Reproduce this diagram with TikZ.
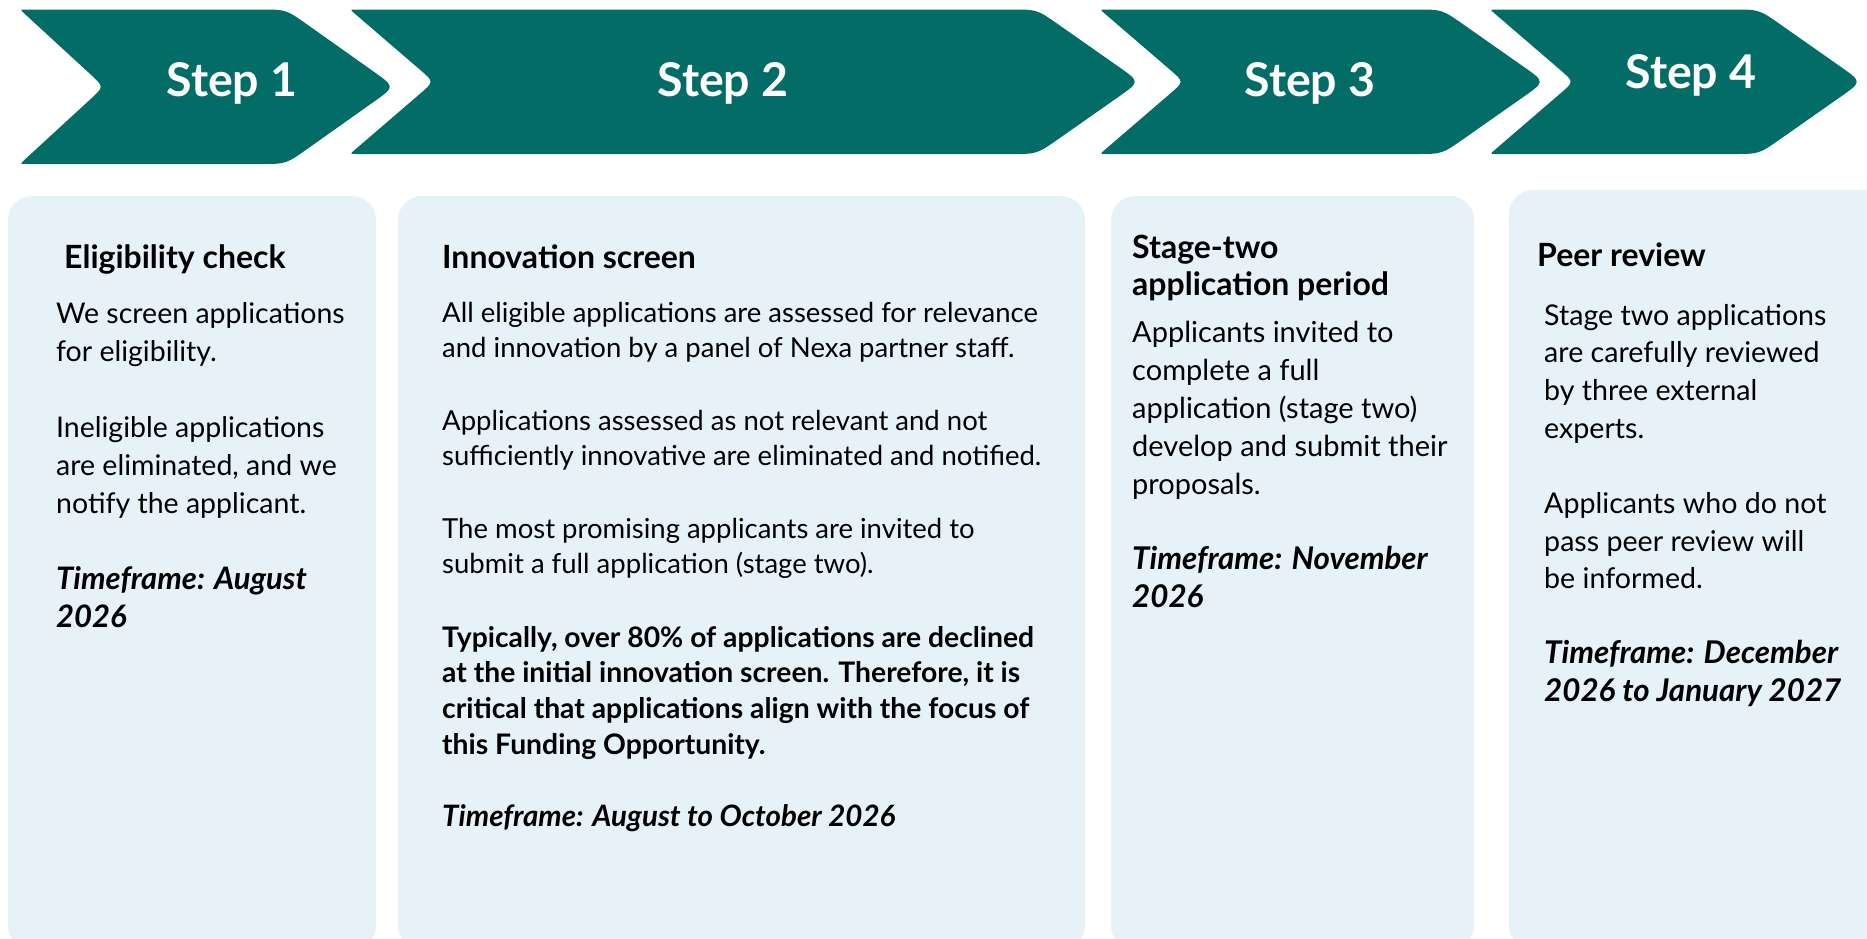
\documentclass[tikz,border=0pt]{standalone}
\usepackage{fontspec}
\setmainfont{Lato}
\usetikzlibrary{calc}
\definecolor{teal}{HTML}{026C67}
\definecolor{boxbg}{HTML}{E6F1F8}
\tikzset{
  card/.style={fill=boxbg, rounded corners=24pt},
  steplabel/.style={text=white, font=\fontsize{46.5}{52}\selectfont\bfseries, inner sep=0pt},
  cardtext/.style={anchor=base west, inner sep=0pt, align=left},
}
% #1 L, #2 N (notch), #3 Rt, #4 P (tip), #5 T, #6 B
\newcommand{\chevronshape}[6]{%
  \coordinate (TL) at (#1,#5);
  \coordinate (TR) at (#3,#5);
  \coordinate (TP) at (#4,{(#5+#6)/2});
  \coordinate (BR) at (#3,#6);
  \coordinate (BL) at (#1,#6);
  \coordinate (NT) at (#2,{(#5+#6)/2});
  \fill[teal] ($(TL)!6pt!(TR)$) -- ($(TR)!26pt!(TL)$) .. controls (TR) .. ($(TR)!26pt!(TP)$)
    -- ($(TP)!26pt!(TR)$) .. controls (TP) .. ($(TP)!26pt!(BR)$)
    -- ($(BR)!26pt!(TP)$) .. controls (BR) .. ($(BR)!26pt!(BL)$)
    -- ($(BL)!6pt!(BR)$) .. controls (BL) .. ($(BL)!6pt!(NT)$)
    -- ($(NT)!18pt!(BL)$) .. controls (NT) .. ($(NT)!18pt!(TL)$)
    -- ($(TL)!6pt!(NT)$) .. controls (TL) .. ($(TL)!6pt!(TR)$) -- cycle;}
\newcommand{\bodysz}[2]{\fontsize{#1}{#2}\selectfont}
\begin{document}
\begin{tikzpicture}[x=1pt,y=-1pt]
\useasboundingbox (0,0) rectangle (1867,938);
\begin{scope}
\clip (0,0) rectangle (1867,938);
\fill[card] (8,196) rectangle (376,950);
\fill[card] (398,196) rectangle (1085,950);
\fill[card] (1111,196) rectangle (1474,950);
\fill[card] (1509,190) rectangle (1890,950);
\end{scope}
% chevrons
\chevronshape{20}{104}{286}{395}{9.5}{164}
\chevronshape{350}{434}{1037}{1140}{9.5}{154}
\chevronshape{1100}{1184}{1442}{1545}{9.5}{154}
\chevronshape{1490}{1574}{1759}{1862}{9.5}{154}
\node[steplabel] (s1) at (232,83) {Step 1};
\node[steplabel] (s2) at (723,83) {Step 2};
\node[steplabel] (s3) at (1310,83) {Step 3};
\node[steplabel] (s4) at (1691,75) {Step 4};
% card 1
\node[cardtext, font=\fontsize{32}{37}\selectfont\bfseries] (h1) at (64,268) {Eligibility check};
\node[cardtext] (b1) at (56,323) {\parbox[t]{330pt}{%
{\bodysz{28.5}{38}We screen applications\\ for eligibility.\par}\vspace{38pt}
{\bodysz{28.5}{38}Ineligible applications\\ are eliminated, and we\\ notify the applicant.\par}\vspace{38pt}
{\bodysz{31}{38}\bfseries\itshape Timeframe: August\\ 2026\par}}};
% card 2
\node[cardtext, font=\fontsize{32}{37}\selectfont\bfseries] (h2) at (442,268) {Innovation screen};
\node[cardtext] (b2) at (442,322) {\parbox[t]{640pt}{%
{\bodysz{27.5}{35.5}All eligible applications are assessed for relevance\\ and innovation by a panel of Nexa partner staff.\par}\vspace{37pt}
{\bodysz{27.5}{35.5}Applications assessed as not relevant and not\\ sufficiently innovative are eliminated and notified.\par}\vspace{37pt}
{\bodysz{27.5}{35.5}The most promising applicants are invited to\\ submit a full application (stage two).\par}\vspace{38pt}
{\bodysz{28.3}{35.7}\bfseries Typically, over 80\% of applications are declined\\ at the initial innovation screen. Therefore, it is\\ critical that applications align with the focus of\\ this Funding Opportunity.\par}\vspace{37pt}
{\bodysz{29.5}{35.5}\bfseries\itshape Timeframe: August to October 2026\par}}};
% card 3
\node[cardtext] (h3) at (1132,258) {\parbox[t]{340pt}{\bodysz{32}{37}\bfseries Stage-two\\ application period}};
\node[cardtext] (b3) at (1132,342) {\parbox[t]{340pt}{%
{\bodysz{29}{38.2}Applicants invited to\\ complete a full\\ application (stage two)\\ develop and submit their\\ proposals.\par}\vspace{37pt}
{\bodysz{31.3}{38}\bfseries\itshape Timeframe: November\\ 2026\par}}};
% card 4
\node[cardtext, font=\fontsize{32}{37}\selectfont\bfseries] (h4) at (1537,266) {Peer review};
\node[cardtext] (b4) at (1544,325) {\parbox[t]{330pt}{%
{\bodysz{28.6}{37.8}Stage two applications\\ are carefully reviewed\\ by three external\\ experts.\par}\vspace{37pt}
{\bodysz{28.6}{37.8}Applicants who do not\\ pass peer review will\\ be informed.\par}\vspace{37pt}
{\bodysz{31.3}{38}\bfseries\itshape Timeframe: December\\ 2026 to January 2027\par}}};
\end{tikzpicture}
\end{document}
